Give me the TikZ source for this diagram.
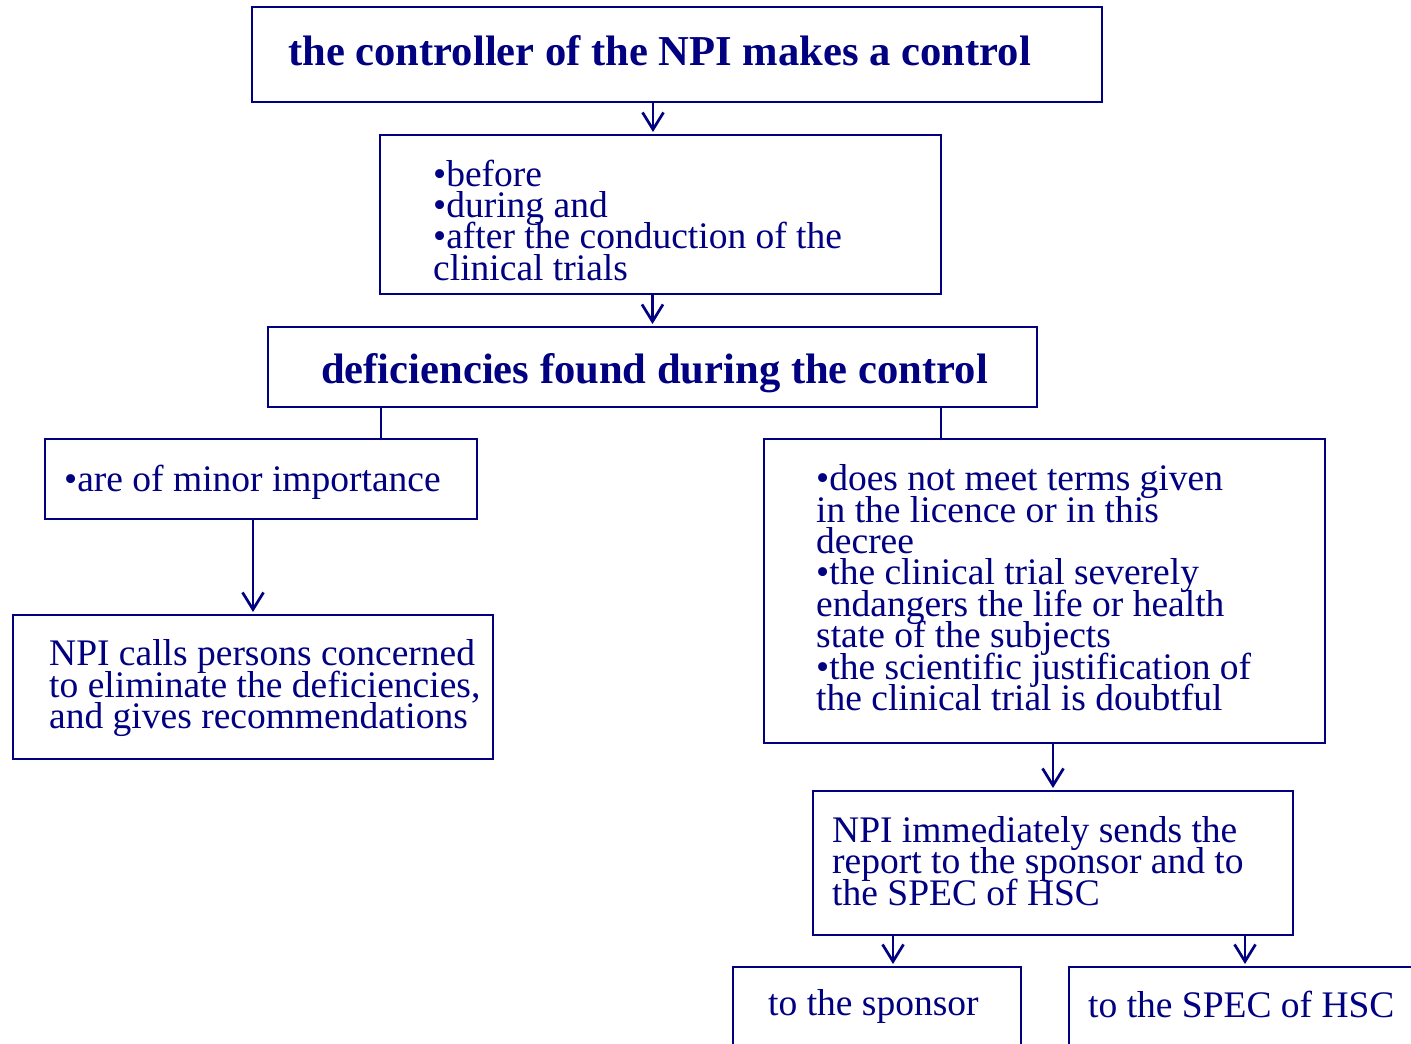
\documentclass[tikz,border=0pt]{standalone}
\usepackage{fontspec}
\setmainfont{Liberation Serif}
\usepackage{tikz}
\usetikzlibrary{arrows.meta}
\definecolor{npiblue}{RGB}{0,0,128}

\begin{document}
\begin{tikzpicture}[x=1pt, y=-1pt,
  box/.style={draw=npiblue, line width=2.7pt, inner sep=0pt, outer sep=0pt},
  txt/.style={anchor=north west, inner sep=0pt, align=left, text=npiblue, font={\fontsize{37.5}{31.4}\selectfont\lineskiplimit=-40pt}},
  ttl/.style={txt, font={\fontsize{42.6}{40}\selectfont\bfseries}},
  line/.style={draw=npiblue, line width=2.7pt},
  arr/.style={line, -{Straight Barb[length=17pt, width=21pt]}, shorten >=3pt}
]

\useasboundingbox (0,0) rectangle (1411,1044);

% Controller box
\node[box, minimum width=850pt, minimum height=95pt] (ctrl) at (677,54.5) {};
\node[ttl] (ctrl-txt) at (288,35) {the controller of the NPI makes a control};

% When the control is made
\node[box, minimum width=561pt, minimum height=159pt] (when) at (660.5,214.5) {};
\node[txt] (when-txt) at (433,159.4) {\textbullet before\\\textbullet during and\\\textbullet after the conduction of the\\clinical trials};

% Deficiencies
\node[box, minimum width=769pt, minimum height=80pt] (defic) at (652.5,367) {};
\node[ttl] (defic-txt) at (321,353) {deficiencies found during the control};

% Minor deficiencies
\node[box, minimum width=432pt, minimum height=80pt] (minor) at (261,479) {};
\node[txt] (minor-txt) at (64,464.4) {\textbullet are of minor importance};

% Severe deficiencies
\node[box, minimum width=561pt, minimum height=304pt] (severe) at (1044.5,591) {};
\node[txt] (severe-txt) at (816,464.4) {\textbullet does not meet terms given\\in the licence or in this\\decree\\\textbullet the clinical trial severely\\endangers the life or health\\state of the subjects\\\textbullet the scientific justification of\\the clinical trial is doubtful};

% NPI calls persons concerned
\node[box, minimum width=480pt, minimum height=144pt] (calls) at (253,687) {};
\node[txt] (calls-txt) at (49,639.4) {NPI calls persons concerned\\to eliminate the deficiencies,\\and gives recommendations};

% NPI sends the report
\node[box, minimum width=480pt, minimum height=144pt] (sends) at (1053,863) {};
\node[txt] (sends-txt) at (832,816) {NPI immediately sends the\\report to the sponsor and to\\the SPEC of HSC};

% Receivers of the report
\node[box, minimum width=288pt, minimum height=103pt] (sponsor) at (877,1018.5) {};
\node[txt] (sponsor-txt) at (768,989) {to the sponsor};
\node[box, minimum width=371pt, minimum height=103pt] (spec) at (1254.5,1018.5) {};
\node[txt] (spec-txt) at (1088,991) {to the SPEC of HSC};

% Connectors
\draw[arr] ([xshift=-7.5pt]when.north |- ctrl.south) -- ([xshift=-7.5pt]when.north);
\draw[arr] (when.south -| defic.north) -- (defic.north);
\draw[line] ([xshift=120pt]minor.north |- defic.south) -- ([xshift=120pt]minor.north);
\draw[line] ([xshift=-103.5pt]severe.north |- defic.south) -- ([xshift=-103.5pt]severe.north);
\draw[arr] (minor.south -| calls.north) -- (calls.north);
\draw[arr] (severe.south -| sends.north) -- (sends.north);
\draw[arr] ([xshift=16pt]sponsor.north |- sends.south) -- ([xshift=16pt]sponsor.north);
\draw[arr] ([xshift=-9.5pt]spec.north |- sends.south) -- ([xshift=-9.5pt]spec.north);

\end{tikzpicture}
\end{document}
